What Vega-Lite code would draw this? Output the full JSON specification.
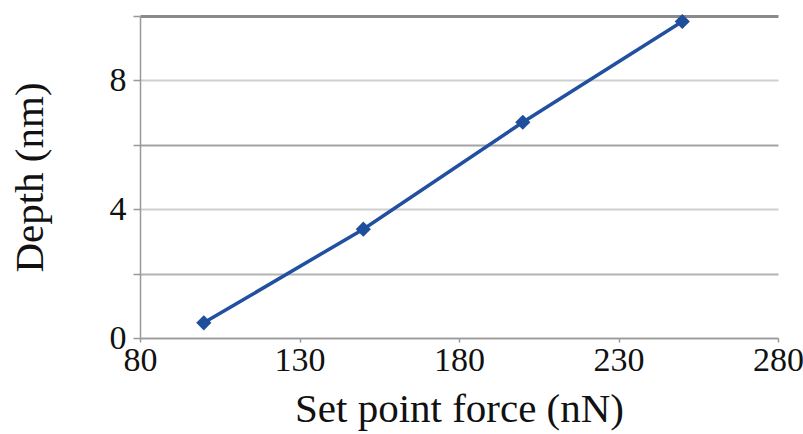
{
  "$schema": "https://vega.github.io/schema/vega-lite/v6.json",
  "width": 638,
  "height": 322,
  "autosize": "none",
  "padding": {"left": 140, "top": 16, "right": 25, "bottom": 96},
  "background": "white",
  "config": {"view": {"stroke": null}, "font": "Liberation Serif"},
  "data": {"values": [
    {"force": 100, "depth": 0.47},
    {"force": 150, "depth": 3.38},
    {"force": 200, "depth": 6.7},
    {"force": 250, "depth": 9.83}
  ]},
  "layer": [
    {
      "mark": {"type": "line", "color": "#2150a0", "strokeWidth": 3.5},
      "encoding": {
        "x": {"field": "force", "type": "quantitative"},
        "y": {"field": "depth", "type": "quantitative"}
      }
    },
    {
      "mark": {"type": "point", "shape": "diamond", "filled": true, "color": "#1f4e9c", "size": 230, "opacity": 1},
      "encoding": {
        "x": {
          "field": "force", "type": "quantitative",
          "scale": {"domain": [80, 280], "nice": false, "zero": false},
          "axis": {
            "title": "Set point force (nN)",
            "values": [80, 130, 180, 230, 280],
            "grid": false,
            "labelFlush": false,
            "domainColor": "#999", "domainWidth": 1.5,
            "tickColor": "#999", "tickSize": 4, "tickWidth": 1.5,
            "labelFont": "Liberation Serif", "labelFontSize": 34, "labelColor": "#111",
            "labelPadding": 1,
            "titleFont": "Liberation Serif", "titleFontSize": 41, "titleFontWeight": "normal", "titleColor": "#111",
            "titlePadding": 12
          }
        },
        "y": {
          "field": "depth", "type": "quantitative",
          "scale": {"domain": [0, 10], "nice": false},
          "axis": {
            "title": "Depth (nm)",
            "values": [0, 2, 4, 6, 8, 10],
            "labelExpr": "datum.value % 4 == 0 ? datum.label : ''",
            "labelFlush": false,
            "grid": true,
            "gridColor": {"condition": [
              {"test": "datum.value == 10", "value": "#8a8a8a"},
              {"test": "datum.value == 6", "value": "#a3a3a3"},
              {"test": "datum.value == 2", "value": "#b3b3b3"}
            ], "value": "#cfcfcf"},
            "gridWidth": {"condition": {"test": "datum.value == 10", "value": 3}, "value": 2},
            "domainColor": "#999", "domainWidth": 1.5,
            "tickColor": "#999", "tickSize": 7, "tickWidth": 1.5,
            "labelFont": "Liberation Serif", "labelFontSize": 34, "labelColor": "#111",
            "labelPadding": 7,
            "titleFont": "Liberation Serif", "titleFontSize": 41, "titleFontWeight": "normal", "titleColor": "#111",
            "titlePadding": 58
          }
        }
      }
    }
  ]
}
